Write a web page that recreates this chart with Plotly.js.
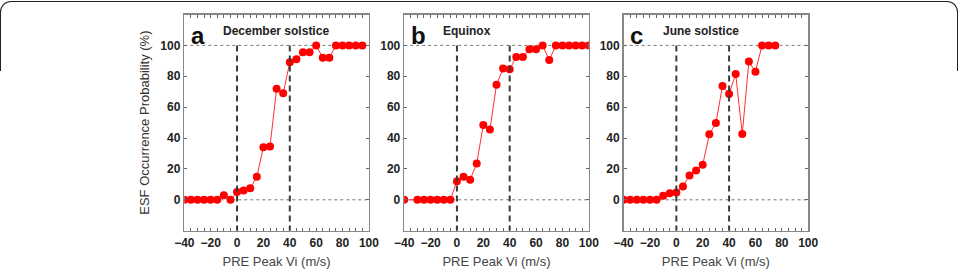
<!DOCTYPE html>
<html>
<head>
<meta charset="utf-8">
<script src="https://cdn.plot.ly/plotly-3.0.1.min.js"></script>
<style>
html,body{margin:0;padding:0;background:#fff;}
#wrap{position:relative;width:961px;height:272px;overflow:hidden;}
#chart{width:961px;height:272px;}
#frame{position:absolute;left:0px;top:1px;width:958px;height:70px;border:1.5px solid #222;border-bottom:none;border-radius:11px 11px 0 0;pointer-events:none;box-sizing:border-box;}
</style>
</head>
<body>
<div id="wrap">
<div id="chart"></div>
<div id="frame"></div>
</div>
<script>
// ---- data ----
var panelLetters = ["a", "b", "c"];
var panelTitles = ["December solstice", "Equinox", "June solstice"];

var xA = [-40,-35,-30,-25,-20,-15,-10,-5,0,5,10,15,20,25,30,35,40,45,50,55,60,65,70,75,80,85,90,95];
var yA = [0,0,0,0,0,0,3,0,5,6,7.5,15,34,34.5,72,69,89,91,95.5,95.5,100,92,92,100,100,100,100,100];

var xB = [-40,-30,-25,-20,-15,-10,-5,0,5,10,15,20,25,30,35,40,45,50,55,60,65,70,75,80,85,90,95,100];
var yB = [0,0,0,0,0,0,0,12,15,13,23.5,48.5,45.5,74.5,85,84.5,92.5,92.5,97.5,97.5,100,90.5,100,100,100,100,100,100];

var xC = [-40,-35,-30,-25,-20,-15,-10,-5,0,5,10,15,20,25,30,35,40,45,50,55,60,65,70,75];
var yC = [0,0,0,0,0,0,2.6,4.3,4.7,8.6,15.8,19,22.7,42.4,49.7,73.7,68.5,81.4,42.6,89.5,83,100,100,100];

var xTickVals = [-40,-20,0,20,40,60,80,100];
var yTickVals = [0,20,40,60,80,100];
var refLinesX = [0, 40];
var refLinesY = [0, 100];

// ---- layout ----
var W = 961, H = 272;
var panelLeft = [184.3, 404.2, 623.6];
var panelW = 184.6;
var boxTop = 14.5, boxBottom = 230.7;
var yDom = [(H - boxBottom) / H, (H - boxTop) / H];

var series = [[xA, yA], [xB, yB], [xC, yC]];
var data = [];
var layout = {
  width: W, height: H,
  margin: {l: 0, r: 0, t: 0, b: 0},
  paper_bgcolor: "#fff", plot_bgcolor: "#fff",
  showlegend: false,
  font: {family: "Liberation Sans, Arial, sans-serif", color: "#222"},
  shapes: [], annotations: []
};

for (var i = 0; i < 3; i++) {
  var xn = i === 0 ? "x" : "x" + (i + 1);
  var yn = i === 0 ? "y" : "y" + (i + 1);
  var xk = i === 0 ? "xaxis" : "xaxis" + (i + 1);
  var yk = i === 0 ? "yaxis" : "yaxis" + (i + 1);
  data.push({
    type: "scatter", mode: "lines+markers",
    x: series[i][0], y: series[i][1],
    xaxis: xn, yaxis: yn,
    line: {color: "#ff3030", width: 1},
    marker: {color: "#ff0000", size: 8},
    hoverinfo: "skip"
  });
  layout[xk] = {
    domain: [panelLeft[i] / W, (panelLeft[i] + panelW) / W],
    anchor: yn,
    range: [-40, 100],
    tickvals: xTickVals,
    ticks: "inside", ticklen: 3, tickwidth: 1, tickcolor: "#666",
    minor: {dtick: 5, tick0: 0, ticks: "inside", ticklen: 3, tickwidth: 1, tickcolor: "#666", showgrid: false},
    showline: true, linecolor: "#888", linewidth: 1.5, mirror: "ticks",
    showgrid: false, zeroline: false,
    tickfont: {size: 12, color: "#222", weight: "bold"},
    title: {text: "PRE Peak Vi (m/s)", font: {size: 13, color: "#444"}, standoff: 8},
    automargin: false
  };
  layout[yk] = {
    domain: yDom,
    anchor: xn,
    range: [-20, 120],
    tickvals: yTickVals,
    ticks: "inside", ticklen: 3, tickwidth: 1, tickcolor: "#666",
    showline: true, linecolor: "#888", linewidth: 1.5, mirror: "ticks",
    showgrid: false, zeroline: false,
    tickfont: {size: 12, color: "#222", weight: "bold"},
    automargin: false
  };
  if (i === 0) {
    layout[yk].title = {text: "ESF Occurrence Probability (%)", font: {size: 13, color: "#333"}, standoff: 8};
  }
  refLinesY.forEach(function (v) {
    layout.shapes.push({
      type: "line", xref: xn + " domain", yref: yn,
      x0: 0, x1: 1, y0: v, y1: v,
      line: {color: "#777", width: 1, dash: "dot"}, layer: "below"
    });
  });
  refLinesX.forEach(function (v) {
    layout.shapes.push({
      type: "line", xref: xn, yref: yn,
      x0: v, x1: v, y0: 100, y1: -20,
      line: {color: "#3a3a3a", width: 2, dash: "6px,4px"}, layer: "above"
    });
  });
  layout.annotations.push({
    xref: xn + " domain", yref: yn + " domain",
    x: 0.025, y: 0.975, xanchor: "left", yanchor: "top",
    text: panelLetters[i], showarrow: false,
    font: {size: 24, color: "#111", weight: "bold"}
  });
  layout.annotations.push({
    xref: xn + " domain", yref: yn + " domain",
    x: 0.2, y: 0.925, xanchor: "left", yanchor: "middle",
    text: panelTitles[i], showarrow: false,
    font: {size: 12, color: "#222", weight: "bold"}
  });
}

Plotly.newPlot("chart", data, layout, {staticPlot: true, displayModeBar: false});
</script>
</body>
</html>
